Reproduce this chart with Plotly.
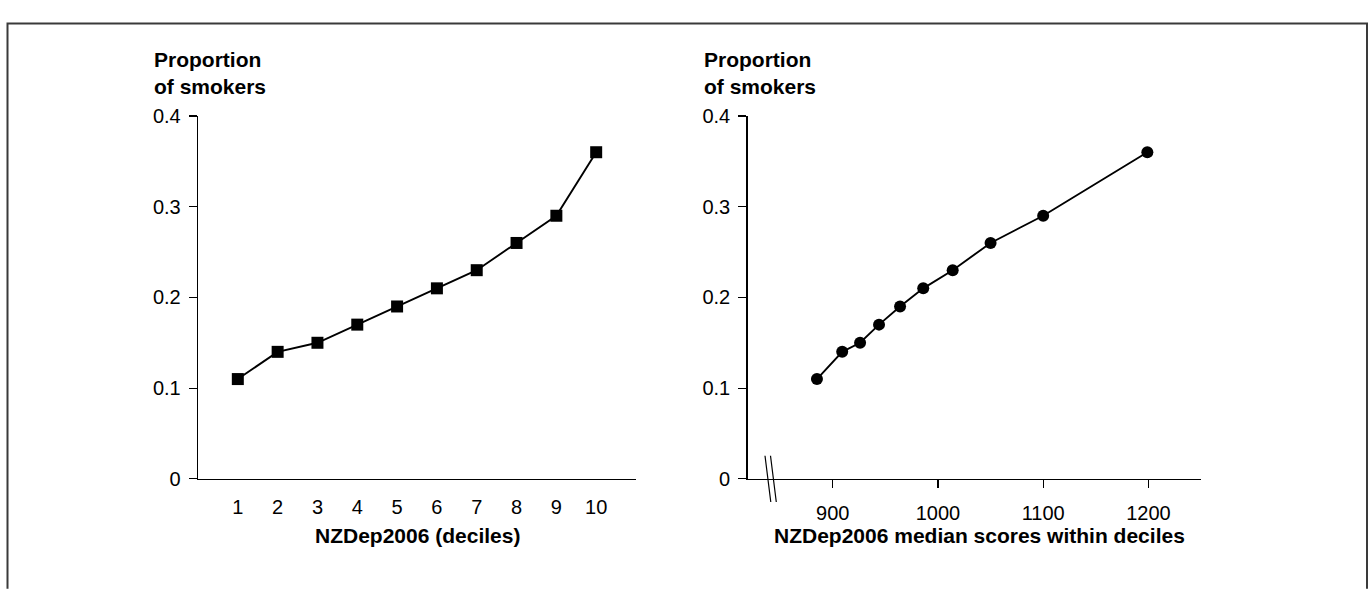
import plotly.graph_objects as go

# ---- data ----
deciles = [1, 2, 3, 4, 5, 6, 7, 8, 9, 10]
median_scores = [885, 909, 926, 944, 964, 986, 1014, 1050, 1100, 1199]
prop_smokers = [0.11, 0.14, 0.15, 0.17, 0.19, 0.21, 0.23, 0.26, 0.29, 0.36]
y_ticks = [0, 0.1, 0.2, 0.3, 0.4]
y_ticktext = ["0", "0.1", "0.2", "0.3", "0.4"]
x2_ticks = [900, 1000, 1100, 1200]

W, H = 1372, 590
FONT = "Liberation Sans, Arial, Helvetica, sans-serif"

def px(x):
    return x / W

def py(y):
    return 1 - y / H

fig = go.Figure()
fig.add_trace(go.Scatter(
    x=deciles, y=prop_smokers, mode="lines+markers",
    line=dict(color="black", width=1.9),
    marker=dict(symbol="square", size=12, color="black"),
    xaxis="x", yaxis="y", showlegend=False, hoverinfo="x+y"))
fig.add_trace(go.Scatter(
    x=median_scores, y=prop_smokers, mode="lines+markers",
    line=dict(color="black", width=1.9),
    marker=dict(symbol="circle", size=12, color="black"),
    xaxis="x2", yaxis="y2", showlegend=False, hoverinfo="x+y"))

tickfont = dict(family=FONT, size=20, color="black")
ydom = [py(486), py(109)]

common_y = dict(range=[0, 0.4], tickvals=y_ticks, ticktext=y_ticktext,
                ticks="outside", ticklen=8, tickwidth=1.2, tickcolor="black",
                showline=True, linecolor="black", linewidth=1.3,
                showgrid=False, zeroline=False, tickfont=tickfont,
                ticklabelstandoff=4, domain=ydom, fixedrange=True)

fig.update_layout(
    width=W, height=H,
    margin=dict(l=0, r=0, t=0, b=0),
    paper_bgcolor="white", plot_bgcolor="white",
    font=dict(family=FONT, color="black"),
    xaxis=dict(domain=[px(198), px(636)], range=[0, 11], tickvals=deciles,
               ticks="", showline=True, linecolor="black", linewidth=1.3,
               showgrid=False, zeroline=False, tickfont=tickfont,
               ticklabelstandoff=10, anchor="y", fixedrange=True),
    yaxis=dict(anchor="x", **common_y),
    xaxis2=dict(domain=[px(747.5), px(1201)], range=[819, 1250], tickvals=x2_ticks,
                ticks="outside", ticklen=8, tickwidth=1.2, tickcolor="black",
                showline=True, linecolor="black", linewidth=1.3,
                showgrid=False, zeroline=False, tickfont=tickfont,
                ticklabelstandoff=8, anchor="y2", fixedrange=True),
    yaxis2=dict(anchor="x2", **common_y),
)

title_font = dict(family=FONT, size=21, color="black")
annots = [
    dict(text="<b>Proportion<br>of smokers</b>", x=px(152), y=py(64),
         xanchor="left", align="left"),
    dict(text="<b>Proportion<br>of smokers</b>", x=px(702), y=py(64),
         xanchor="left", align="left"),
    dict(text="<b>NZDep2006 (deciles)</b>", x=px(417), y=py(545), xanchor="center"),
    dict(text="<b>NZDep2006 median scores within deciles</b>", x=px(979), y=py(545),
         xanchor="center"),
]
for a in annots:
    fig.add_annotation(xref="paper", yref="paper", showarrow=False, yanchor="middle",
                       font=title_font, **a)

# frame (open at bottom)
fig.add_shape(type="path", xref="paper", yref="paper",
              path=f"M {px(7.5)} {py(600)} L {px(7.5)} {py(13)} L {px(1367)} {py(13)} L {px(1367)} {py(600)}",
              line=dict(color="#3a3a3a", width=2))

# axis break marks
for x0 in (765, 770.5):
    fig.add_shape(type="line", xref="paper", yref="paper",
                  x0=px(x0), y0=py(462), x1=px(x0 + 5.8), y1=py(510),
                  line=dict(color="black", width=1.2))

fig.write_html("out.html", config={"displayModeBar": False, "staticPlot": True},
               post_script="document.body.style.margin='0px';")
